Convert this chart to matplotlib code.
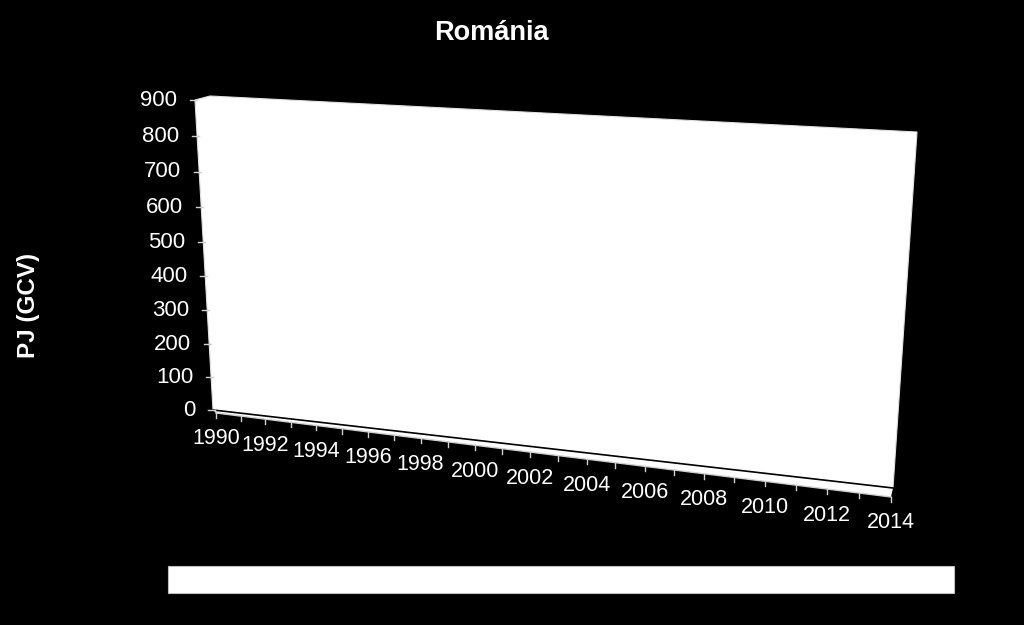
import numpy as np
import matplotlib
matplotlib.use("Agg")
import matplotlib.pyplot as plt
from matplotlib.patches import Polygon, Rectangle

plt.rcParams["font.family"] = ["Liberation Sans", "DejaVu Sans"]

# chart content (the series itself is empty in the source picture)
years = list(range(1990, 2015))
label_years = years[::2]
y_ticks = [0, 100, 200, 300, 400, 500, 600, 700, 800, 900]
y_max = 900
title = "Románia"
y_label = "PJ (GCV)"

# layout of the 3d look, in pixels
W, H_PX = 1024, 625
wall_corners = [(213, 410), (195, 100), (917, 132), (893, 488)]  # bl, tl, tr, br
wall_depth = (15, -4)
axis_start, axis_end = (216, 413), (891, 497)
axis_persp = 0.13
legend_box = (168, 566, 954, 593)


def homography(src, dst):
    A, b = [], []
    for (x, y), (X, Y) in zip(src, dst):
        A.append([x, y, 1, 0, 0, 0, -X * x, -X * y])
        b.append(X)
        A.append([0, 0, 0, x, y, 1, -Y * x, -Y * y])
        b.append(Y)
    h = np.linalg.solve(np.array(A, float), np.array(b, float))
    return np.append(h, 1).reshape(3, 3)


Hw = homography([(0, 0), (0, 1), (1, 1), (1, 0)], wall_corners)


def wall_pt(u, v):
    p = Hw @ np.array([u, v, 1.0])
    return p[0] / p[2], p[1] / p[2]


def axis_pt(u):
    k = (axis_end[0] - axis_start[0]) * (1 - axis_persp)
    x = axis_start[0] + k * u / (1 - axis_persp * u)
    t = (x - axis_start[0]) / (axis_end[0] - axis_start[0])
    y = axis_start[1] + t * (axis_end[1] - axis_start[1])
    return x, y


fig = plt.figure(figsize=(W / 100, H_PX / 100), dpi=100, facecolor="black")
ax = fig.add_axes([0, 0, 1, 1])
ax.set_xlim(0, W)
ax.set_ylim(H_PX, 0)
ax.axis("off")

# back wall
bl, tl, tr, br = wall_pt(0, 0), wall_pt(0, 1), wall_pt(1, 1), wall_pt(1, 0)
tl2 = (tl[0] + wall_depth[0], tl[1] + wall_depth[1])
ax.add_patch(Polygon([bl, tl, tl2, tr, br], closed=True, fc="white", ec="#e0e0e0", lw=0.8))

# floor strip
a0, a1 = axis_pt(0), axis_pt(1)
ax.add_patch(Polygon([bl, br, a1, a0], closed=True, fc="white", ec="none"))
ax.plot([bl[0], br[0]], [bl[1], br[1]], color="black", lw=1.2)
ax.plot([a0[0], a1[0]], [a0[1], a1[1]], color="#d0d0d0", lw=1.0)

# value axis
for val in y_ticks:
    x, y = wall_pt(0, val / y_max)
    ax.plot([x - 5, x + 2], [y, y], color="#d0d0d0", lw=1.0)
    ax.text(x - 18, y, str(val), color="white", fontsize=16, ha="right", va="center")

# category axis
n = len(years) - 1
for i, yr in enumerate(years):
    x, y = axis_pt(i / n)
    ax.plot([x, x], [y, y + 5], color="#d0d0d0", lw=1.0)
    if yr in label_years:
        ax.text(x, y + 26, str(yr), color="white", fontsize=15.5, ha="center", va="center")

# empty legend
x0, y0, x1, y1 = legend_box
ax.add_patch(Rectangle((x0, y0), x1 - x0, y1 - y0, fc="white", ec="#bfbfbf", lw=0.8))

ax.text(491, 33, title, color="white", fontsize=19.5, fontweight="bold", ha="center", va="center")
ax.text(28, 305, y_label, color="white", fontsize=17.5, fontweight="bold",
        rotation=90, ha="center", va="center")

fig.savefig("out.png", dpi=100, facecolor="black")
